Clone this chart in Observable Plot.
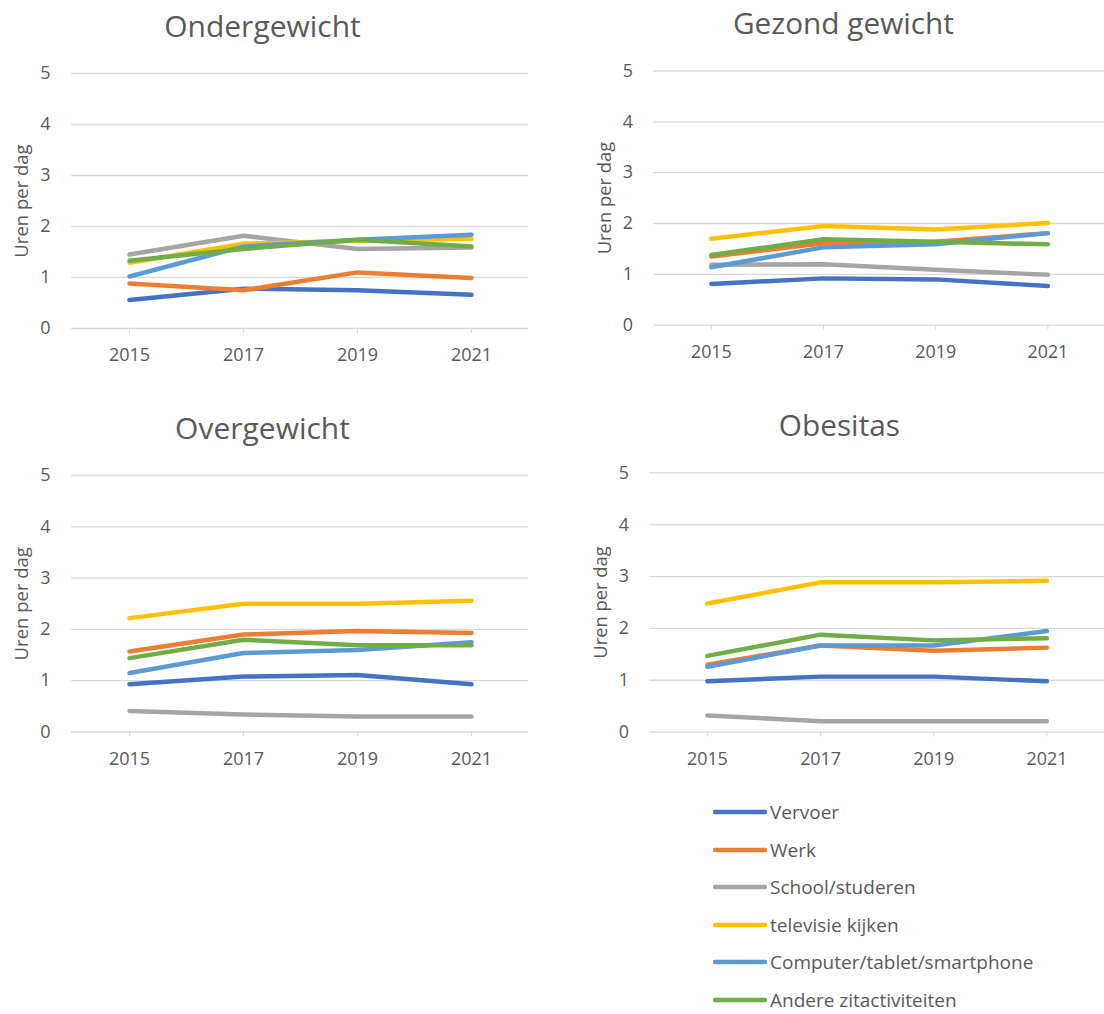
<!DOCTYPE html>
<html>
<head>
<meta charset="utf-8">
<script src="https://cdn.jsdelivr.net/npm/d3@7"></script>
<script src="https://cdn.jsdelivr.net/npm/@observablehq/plot@0.6"></script>
<style>
  html, body { margin: 0; padding: 0; background: #fff; }
  body { width: 1104px; height: 1014px; overflow: hidden; position: relative; font-family: "Open Sans", sans-serif; }
  .panel { position: absolute; }
  .panel svg { overflow: visible; }
  #legend { position: absolute; left: 713px; top: 0px; }
  .lrow { position: absolute; left: 0; height: 20px; line-height: 20px; display: flex; align-items: center; white-space: nowrap; color: #595959; font-size: 19px; }
  .lrow svg { margin-right: 3px; }
</style>
</head>
<body>
<div id="p0" class="panel" style="left:0px;top:0px"></div>
<div id="p1" class="panel" style="left:552px;top:0px"></div>
<div id="p2" class="panel" style="left:0px;top:400px"></div>
<div id="p3" class="panel" style="left:552px;top:400px"></div>
<div id="legend"></div>
<script>
const years = ["2015", "2017", "2019", "2021"];
const series = ["Vervoer", "Werk", "School/studeren", "televisie kijken", "Computer/tablet/smartphone", "Andere zitactiviteiten"];
const seriesColors = ["#4472C4", "#ED7D31", "#A5A5A5", "#FFC000", "#5B9BD5", "#70AD47"];
const yTicks = [0, 1, 2, 3, 4, 5];
const panelTitles = ["Ondergewicht", "Gezond gewicht", "Overgewicht", "Obesitas"];
const yLabel = "Uren per dag";

// one row per series, one value per year
const ondergewicht = [
  [0.56, 0.78, 0.75, 0.66],
  [0.88, 0.75, 1.10, 0.99],
  [1.45, 1.82, 1.56, 1.59],
  [1.29, 1.66, 1.72, 1.76],
  [1.02, 1.61, 1.74, 1.84],
  [1.33, 1.56, 1.74, 1.61]
];
const gezondGewicht = [
  [0.81, 0.92, 0.90, 0.77],
  [1.35, 1.61, 1.64, 1.81],
  [1.19, 1.20, 1.09, 0.99],
  [1.70, 1.95, 1.88, 2.01],
  [1.14, 1.53, 1.59, 1.81],
  [1.38, 1.69, 1.64, 1.59]
];
const overgewicht = [
  [0.93, 1.08, 1.11, 0.93],
  [1.57, 1.90, 1.97, 1.93],
  [0.41, 0.34, 0.30, 0.30],
  [2.22, 2.50, 2.50, 2.56],
  [1.15, 1.54, 1.60, 1.75],
  [1.44, 1.80, 1.69, 1.69]
];
const obesitas = [
  [0.98, 1.07, 1.07, 0.98],
  [1.30, 1.67, 1.57, 1.63],
  [0.32, 0.21, 0.21, 0.21],
  [2.48, 2.89, 2.89, 2.92],
  [1.26, 1.67, 1.67, 1.95],
  [1.47, 1.88, 1.77, 1.81]
];

const panelValues = [ondergewicht, gezondGewicht, overgewicht, obesitas];
const layouts = [
  {width: 552, marginLeft: 71, marginRight: 24, marginTop: 73, marginBottom: 52},
  {width: 556, marginLeft: 102, marginRight: 0, marginTop: 71, marginBottom: 53},
  {width: 552, marginLeft: 71, marginRight: 24, marginTop: 75, marginBottom: 48.5},
  {width: 556, marginLeft: 98, marginRight: 0, marginTop: 73, marginBottom: 46}
];

const textColor = "#595959";
const gridColor = "#D9D9D9";

function makePanel(i) {
  const vals = panelValues[i];
  const rows = [];
  series.forEach((s, si) => years.forEach((y, yi) => rows.push({series: s, year: y, value: vals[si][yi]})));
  const L = layouts[i];
  return Plot.plot({
    width: L.width,
    height: 380,
    marginLeft: L.marginLeft,
    marginRight: L.marginRight,
    marginTop: L.marginTop,
    marginBottom: L.marginBottom,
    style: {fontFamily: "'Open Sans', sans-serif", color: textColor, background: "transparent", overflow: "visible"},
    x: {type: "point", domain: years, padding: 0.5},
    y: {domain: [0, 5]},
    color: {domain: series, range: seriesColors},
    marks: [
      Plot.gridY(yTicks, {stroke: gridColor, strokeOpacity: 1, strokeWidth: 1.3}),
      Plot.axisY({ticks: yTicks, tickFormat: d => String(d), tickSize: 0, tickPadding: 21, fontSize: 18, label: null, fill: textColor}),
      Plot.axisX({tickSize: 5, tickPadding: 15, fontSize: 18, label: null, stroke: gridColor, fill: textColor}),
      Plot.lineY(rows, {x: "year", y: "value", z: "series", stroke: "series", strokeWidth: 4.5, strokeLinecap: "round", strokeLinejoin: "round"}),
      Plot.text([panelTitles[i]], {frameAnchor: "top-left", dx: 191, dy: -37, textAnchor: "middle", lineAnchor: "bottom", fontSize: 30, fill: textColor}),
      Plot.text([yLabel], {frameAnchor: "left", dx: -49, rotate: -90, textAnchor: "middle", lineAnchor: "middle", fontSize: 18.5, fill: textColor})
    ]
  });
}

for (let i = 0; i < 4; i++) {
  document.getElementById("p" + i).appendChild(makePanel(i));
}

const legend = document.getElementById("legend");
series.forEach((s, si) => {
  const row = document.createElement("div");
  row.className = "lrow";
  row.style.top = (812 + si * 37.6 - 10) + "px";
  row.innerHTML = `<svg width="54" height="10"><line x1="2" y1="5" x2="52" y2="5" stroke="${seriesColors[si]}" stroke-width="4.5" stroke-linecap="round"/></svg><span>${s}</span>`;
  legend.appendChild(row);
});
</script>
</body>
</html>
